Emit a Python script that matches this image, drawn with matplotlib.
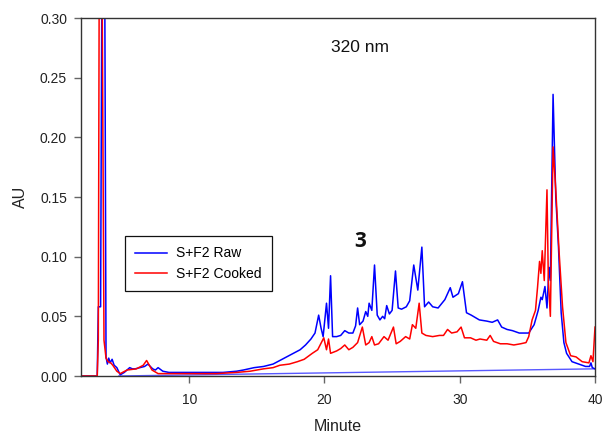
import matplotlib
matplotlib.use("Agg")
import matplotlib.pyplot as plt

plt.rcParams['font.family'] = ['Liberation Sans', 'DejaVu Sans']

# Blue: S+F2 Raw (minute, AU)
raw_t = [2.0, 3.2, 3.28, 3.45, 3.55, 3.75, 3.85, 3.95, 4.05, 4.15, 4.3, 4.45, 4.65, 4.9,
         5.2, 5.4, 5.6, 5.8, 6.0, 6.35, 6.7, 6.95, 7.3, 7.5, 7.7, 8.05, 8.5, 9.5, 10.5,
         11.5, 12.5, 13.5, 14.0, 14.8, 15.5, 16.2, 16.7, 17.2, 17.7, 18.2, 18.6, 19.0,
         19.3, 19.57, 19.75, 19.9, 20.15, 20.3, 20.45, 20.6, 20.9, 21.2, 21.5, 21.8,
         22.1, 22.3, 22.45, 22.6, 22.85, 23.05, 23.2, 23.3, 23.5, 23.7, 23.9, 24.1,
         24.3, 24.45, 24.6, 24.8, 25.0, 25.25, 25.45, 25.7, 26.05, 26.3, 26.6, 26.9,
         27.2, 27.4, 27.7, 28.0, 28.4, 28.9, 29.3, 29.5, 29.9, 30.2, 30.5, 30.85,
         31.45, 32.0, 32.4, 32.8, 33.1, 33.5, 33.9, 34.4, 35.1, 35.5, 35.8, 36.0,
         36.1, 36.3, 36.45, 36.6, 36.7, 36.9, 37.1, 37.3, 37.5, 37.7, 37.9, 38.3,
         38.8, 39.3, 39.6, 39.7, 39.8, 40.0]
raw_au = [0.000, 0.000, 0.058, 0.058, 0.35, 0.35, 0.016, 0.010, 0.015, 0.011, 0.014,
          0.009, 0.007, 0.001, 0.003, 0.005, 0.007, 0.006, 0.006, 0.007, 0.008, 0.010,
          0.006, 0.005, 0.007, 0.004, 0.003, 0.003, 0.003, 0.003, 0.003, 0.004, 0.005,
          0.007, 0.008, 0.010, 0.013, 0.016, 0.019, 0.022, 0.026, 0.031, 0.036, 0.051,
          0.040, 0.033, 0.061, 0.040, 0.084, 0.033, 0.033, 0.034, 0.038, 0.036, 0.036,
          0.042, 0.057, 0.043, 0.046, 0.054, 0.050, 0.061, 0.055, 0.093, 0.051, 0.047,
          0.050, 0.048, 0.059, 0.052, 0.055, 0.088, 0.057, 0.056, 0.058, 0.063, 0.093,
          0.072, 0.108, 0.058, 0.062, 0.058, 0.057, 0.064, 0.074, 0.066, 0.069, 0.079,
          0.053, 0.051, 0.047, 0.046, 0.045, 0.047, 0.041, 0.039, 0.038, 0.036, 0.036,
          0.043, 0.055, 0.066, 0.064, 0.075, 0.057, 0.091, 0.080, 0.236, 0.150, 0.108,
          0.053, 0.028, 0.019, 0.012, 0.010, 0.008, 0.008, 0.011, 0.007, 0.006]

# Red: S+F2 Cooked (minute, AU)
cooked_t = [2.0, 3.2, 3.28, 3.35, 3.55, 3.7, 3.85, 4.0, 4.2, 4.35, 4.65, 4.9, 5.4, 6.1,
            6.6, 6.85, 7.05, 7.25, 7.7, 9.0, 10.5, 12.0, 13.5, 14.5, 15.5, 16.2, 16.7,
            17.4, 18.0, 18.5, 19.1, 19.5, 19.95, 20.15, 20.3, 20.45, 20.9, 21.2, 21.5,
            21.8, 22.1, 22.45, 22.8, 23.05, 23.3, 23.5, 23.7, 24.0, 24.4, 24.7, 25.1,
            25.3, 25.6, 26.0, 26.3, 26.5, 26.75, 27.0, 27.2, 27.5, 28.0, 28.5, 28.8,
            29.1, 29.4, 29.8, 30.1, 30.35, 30.8, 31.2, 31.5, 32.0, 32.25, 32.5, 33.0,
            33.5, 34.0, 34.5, 34.9, 35.1, 35.35, 35.6, 35.75, 35.9, 36.0, 36.1, 36.25,
            36.45, 36.55, 36.7, 36.9, 37.1, 37.35, 37.6, 37.85, 38.2, 38.6, 39.05,
            39.55, 39.7, 39.85, 40.0]
cooked_au = [0.000, 0.000, 0.030, 0.35, 0.35, 0.030, 0.015, 0.012, 0.011, 0.009, 0.004,
             0.002, 0.005, 0.006, 0.009, 0.013, 0.009, 0.005, 0.002, 0.002, 0.002, 0.002,
             0.003, 0.004, 0.006, 0.007, 0.009, 0.010, 0.012, 0.014, 0.019, 0.022, 0.032,
             0.022, 0.031, 0.019, 0.021, 0.023, 0.026, 0.022, 0.024, 0.028, 0.041, 0.026,
             0.028, 0.033, 0.026, 0.027, 0.033, 0.030, 0.041, 0.027, 0.029, 0.033, 0.031,
             0.043, 0.040, 0.061, 0.036, 0.034, 0.033, 0.034, 0.034, 0.039, 0.036, 0.037,
             0.041, 0.032, 0.032, 0.030, 0.031, 0.030, 0.034, 0.029, 0.027, 0.027, 0.026,
             0.027, 0.028, 0.033, 0.047, 0.055, 0.074, 0.096, 0.086, 0.105, 0.080, 0.156,
             0.080, 0.050, 0.192, 0.156, 0.103, 0.058, 0.028, 0.017, 0.016, 0.012, 0.011,
             0.017, 0.012, 0.041]

# Drawn baseline
base_t = [4.8, 40.0]
base_au = [0.000, 0.006]

x_ticks = [10, 20, 30, 40]
y_ticks = [0.00, 0.05, 0.10, 0.15, 0.20, 0.25, 0.30]

fig = plt.figure(figsize=(6.04, 4.36), dpi=100)
ax = fig.add_axes([81/604, 1-376/436, (595-81)/604, (376-18)/436])

ax.plot(base_t, base_au, color='#2020ff', lw=1.0, alpha=0.75)
ax.plot(raw_t, raw_au, color='#0000ff', lw=1.1, label='S+F2 Raw')
ax.plot(cooked_t, cooked_au, color='#ff0000', lw=1.1, label='S+F2 Cooked')

ax.set_xlim(2, 40)
ax.set_ylim(0, 0.30)
ax.set_xticks(x_ticks)
ax.set_yticks(y_ticks)
ax.set_yticklabels([f"{v:.2f}" for v in y_ticks])
ax.tick_params(axis='both', direction='out', length=5, width=1, color='#666666',
               labelsize=10, labelcolor='#222222')
ax.tick_params(axis='x', pad=7)
ax.tick_params(axis='y', pad=5)
for s in ax.spines.values():
    s.set_color('#333333')
    s.set_linewidth(1.0)

ax.set_xlabel('Minute', fontsize=11.5, color='#222222', labelpad=9)
ax.set_ylabel('AU', fontsize=11.5, color='#222222', labelpad=9)

ax.text(360/604, 1-47/436, '320 nm', transform=fig.transFigure, fontsize=12.5,
        ha='center', va='center', color='#111111')
ax.text(360/604, 1-241/436, '3', transform=fig.transFigure, fontsize=15,
        fontweight='bold', ha='center', va='center', color='#111111',
        family=['Open Sans', 'DejaVu Sans'])

leg = ax.legend(loc='upper left', bbox_to_anchor=(125/604, 1-236/436),
                bbox_transform=fig.transFigure, borderaxespad=0, fancybox=False,
                framealpha=1, edgecolor='#111111', fontsize=10, handlelength=2.3,
                handletextpad=0.6, borderpad=0.75, labelspacing=0.45)
leg.get_frame().set_linewidth(0.9)

fig.savefig('out.png', dpi=100)
